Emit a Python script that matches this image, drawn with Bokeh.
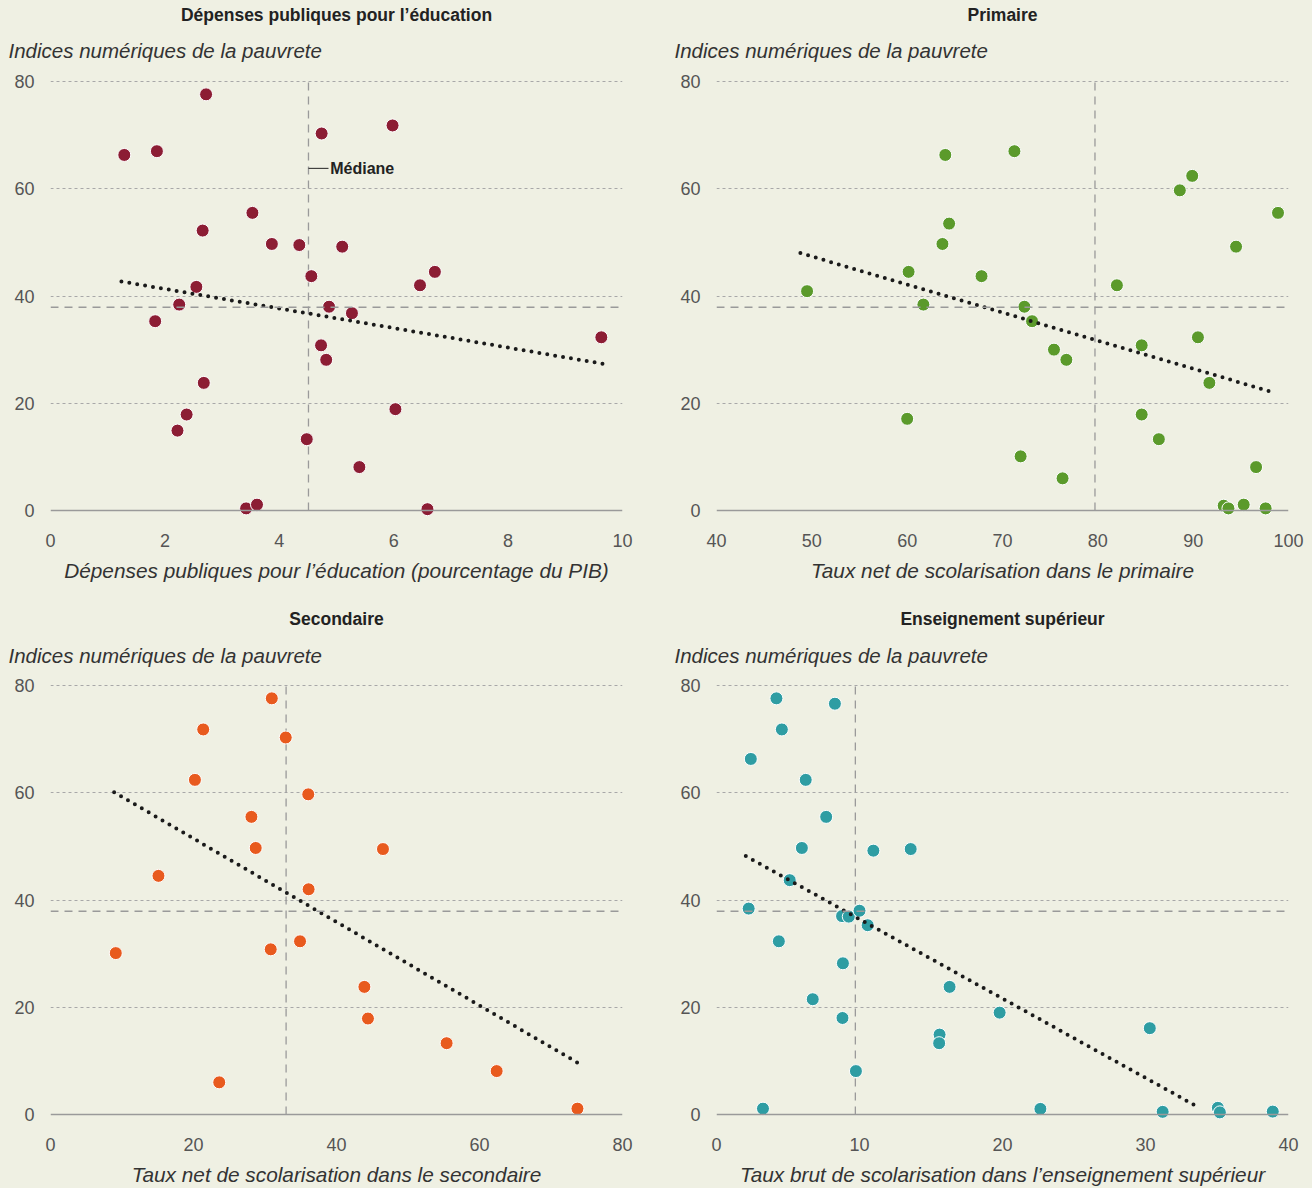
from bokeh.plotting import figure
from bokeh.models import Range1d, Span, Title, FixedTicker
from bokeh.layouts import column, row
from bokeh.core.properties import value
from bokeh.embed import file_html
from bokeh.resources import INLINE

# ---------------- data ----------------
y_label = "Indices numériques de la pauvrete"
y_ticks = [0, 20, 40, 60, 80]
grid_ticks = [20, 40, 60, 80]
median_poverty = 37.9

# Panel 1: public spending on education
dep_title = "Dépenses publiques pour l’éducation"
dep_xlabel = "Dépenses publiques pour l’éducation (pourcentage du PIB)"
dep_x = [2.72, 1.29, 1.86, 4.74, 5.98, 3.53, 2.66, 3.87, 4.35, 5.10, 4.56, 6.72, 6.46, 2.55, 2.25,
         4.87, 5.27, 1.83, 9.63, 4.73, 4.82, 2.68, 6.03, 2.38, 2.22, 4.48, 5.40, 3.42, 3.61, 6.59]
dep_y = [77.6, 66.3, 67.0, 70.3, 71.8, 55.5, 52.2, 49.7, 49.5, 49.2, 43.7, 44.5, 42.0, 41.7, 38.4,
         38.0, 36.8, 35.3, 32.3, 30.8, 28.1, 23.8, 18.9, 17.9, 14.9, 13.3, 8.1, 0.4, 1.1, 0.25]
dep_xticks = [0, 2, 4, 6, 8, 10]
dep_median = 4.51
dep_trend_x = [1.24, 9.69]
dep_trend_y = [42.7, 27.3]

# Panel 2: primary
pri_title = "Primaire"
pri_xlabel = "Taux net de scolarisation dans le primaire"
pri_x = [64.0, 71.25, 89.9, 88.6, 98.9, 64.4, 63.7, 94.5, 60.15, 67.8, 82.0, 49.5, 61.7, 72.3, 73.1,
         75.4, 76.7, 84.6, 90.5, 91.7, 60.0, 84.6, 86.4, 71.9, 76.3, 96.6, 93.2, 93.7, 95.3, 97.6]
pri_y = [66.3, 67.0, 62.4, 59.7, 55.5, 53.5, 49.7, 49.2, 44.5, 43.7, 42.0, 40.9, 38.4, 38.0, 35.3,
         30.0, 28.1, 30.8, 32.3, 23.8, 17.1, 17.9, 13.3, 10.1, 6.0, 8.1, 0.9, 0.4, 1.1, 0.4]
pri_xticks = [40, 50, 60, 70, 80, 90, 100]
pri_median = 79.7
pri_trend_x = [48.8, 98.1]
pri_trend_y = [48.0, 22.2]

# Panel 3: secondary
sec_title = "Secondaire"
sec_xlabel = "Taux net de scolarisation dans le secondaire"
sec_x = [30.95, 21.36, 32.9, 20.2, 36.05, 28.1, 28.7, 46.5, 15.1, 36.1,
         9.13, 30.8, 34.9, 43.9, 44.4, 55.4, 62.4, 23.6, 73.7]
sec_y = [77.6, 71.8, 70.3, 62.4, 59.7, 55.5, 49.7, 49.5, 44.5, 42.0,
         30.1, 30.8, 32.3, 23.8, 17.9, 13.3, 8.1, 6.0, 1.1]
sec_xticks = [0, 20, 40, 60, 80]
sec_median = 32.95
sec_trend_x = [8.9, 73.8]
sec_trend_y = [60.1, 9.6]

# Panel 4: tertiary
ter_title = "Enseignement supérieur"
ter_xlabel = "Taux brut de scolarisation dans l’enseignement supérieur"
ter_x = [4.19, 8.28, 4.57, 2.40, 6.24, 7.67, 5.97, 10.97, 13.58, 5.12, 2.25, 8.78, 9.25, 10.0, 10.57, 4.36,
         8.84, 6.73, 16.3, 8.81, 19.8, 15.6, 15.57, 30.3, 9.75, 3.25, 22.65, 31.2, 35.06, 35.2, 38.9]
ter_y = [77.6, 76.6, 71.8, 66.3, 62.4, 55.5, 49.7, 49.2, 49.5, 43.7, 38.4, 37.0, 36.9, 38.0, 35.3, 32.3,
         28.2, 21.5, 23.8, 18.0, 19.0, 14.9, 13.3, 16.1, 8.1, 1.1, 1.05, 0.5, 1.25, 0.4, 0.55]
ter_xticks = [0, 10, 20, 30, 40]
ter_median = 9.71
ter_trend_x = [2.05, 33.4]
ter_trend_y = [48.2, 1.8]

median_note = "Médiane"
median_note_y = 63.8

# ---------------- styling ----------------
BG = "#EFF0E3"
FONT = "Liberation Sans"
TXT = "#333333"
GRAY = "#9a9a9a"


def make_panel(title, xlabel, xs, ys, color, xticks, med_x, tr_x, tr_y,
               width, height, bl, br, bt, bb, sub_standoff, head_standoff, note=False):
    p = figure(width=width, height=height,
               x_range=Range1d(xticks[0], xticks[-1]), y_range=Range1d(-1.3, 81.86),
               output_backend="svg", toolbar_location=None, title_location=None,
               min_border_left=bl, min_border_right=br, min_border_top=bt, min_border_bottom=bb)
    p.background_fill_color = BG
    p.border_fill_color = BG
    p.outline_line_color = None

    sub = Title(text=y_label, align="left", offset=-42, text_font=FONT, text_font_style="italic",
                text_font_size="20.5px", text_color=TXT, standoff=sub_standoff)
    p.add_layout(sub, "above")
    head = Title(text=title, align="center", text_font=FONT, text_font_style="bold",
                 text_font_size="17.5px", text_color="#222222", standoff=head_standoff)
    p.add_layout(head, "above")

    p.xgrid.visible = False
    p.ygrid.ticker = FixedTicker(ticks=grid_ticks)
    p.ygrid.grid_line_color = "#a8a8a8"
    p.ygrid.grid_line_dash = "3 3"
    p.ygrid.grid_line_width = 1

    for ax in (p.xaxis, p.yaxis):
        ax.axis_line_color = None
        ax.major_tick_line_color = None
        ax.minor_tick_line_color = None
        ax.major_tick_out = 0
        ax.major_tick_in = 0
        ax.major_label_text_font = FONT
        ax.major_label_text_font_size = "18px"
        ax.major_label_text_color = "#555555"
    p.xaxis.ticker = FixedTicker(ticks=xticks)
    p.yaxis.ticker = FixedTicker(ticks=y_ticks)
    p.xaxis.major_label_standoff = 16
    p.yaxis.major_label_standoff = 16
    p.xaxis.axis_label = xlabel
    p.xaxis.axis_label_text_font = FONT
    p.xaxis.axis_label_text_font_style = "italic"
    p.xaxis.axis_label_text_font_size = "20.8px"
    p.xaxis.axis_label_text_color = TXT
    p.xaxis.axis_label_standoff = 9

    p.add_layout(Span(location=0, dimension="width", line_color=GRAY, line_width=1.5))
    p.add_layout(Span(location=median_poverty, dimension="width", line_color=GRAY,
                      line_width=1.3, line_dash="8 6"))
    p.segment(x0=[med_x], y0=[0], x1=[med_x], y1=[80], line_color=GRAY,
              line_width=1.3, line_dash="8 6")

    if note:
        span = (xticks[-1] - xticks[0])
        p.segment(x0=[med_x], y0=[median_note_y], x1=[med_x + span * 0.035], y1=[median_note_y],
                  line_color="#222222", line_width=1)
        p.text(x=[med_x + span * 0.038], y=[median_note_y], text=[median_note],
               text_font=value(FONT), text_font_size="16px", text_font_style="bold",
               text_color="#222222", text_baseline="middle", text_align="left")

    p.scatter(xs, ys, size=13, fill_color=color, line_color="white", line_width=1)
    p.line(tr_x, tr_y, line_color="#1a1a1a", line_width=4, line_dash="0 8", line_cap="round")
    return p


p1 = make_panel(dep_title, dep_xlabel, dep_x, dep_y, "#8C1D34", dep_xticks, dep_median,
                dep_trend_x, dep_trend_y, 656, 594, 50, 34, 70, 77, 19, 5, note=True)
p2 = make_panel(pri_title, pri_xlabel, pri_x, pri_y, "#5B9A2B", pri_xticks, pri_median,
                pri_trend_x, pri_trend_y, 656, 594, 60, 24, 70, 77, 19, 5)
p3 = make_panel(sec_title, sec_xlabel, sec_x, sec_y, "#E85A1E", sec_xticks, sec_median,
                sec_trend_x, sec_trend_y, 656, 594, 50, 34, 81, 66, 17, 10)
p4 = make_panel(ter_title, ter_xlabel, ter_x, ter_y, "#2E9DA3", ter_xticks, ter_median,
                ter_trend_x, ter_trend_y, 656, 594, 60, 24, 81, 66, 17, 10)

layout = column(row(p1, p2, spacing=0), row(p3, p4, spacing=0), spacing=0)
layout.styles = {"background-color": BG}

html = file_html(layout, INLINE)
html = html.replace("<head>", "<head><style>html,body{background:%s;}</style>" % BG, 1)
open("out.html", "w").write(html)
